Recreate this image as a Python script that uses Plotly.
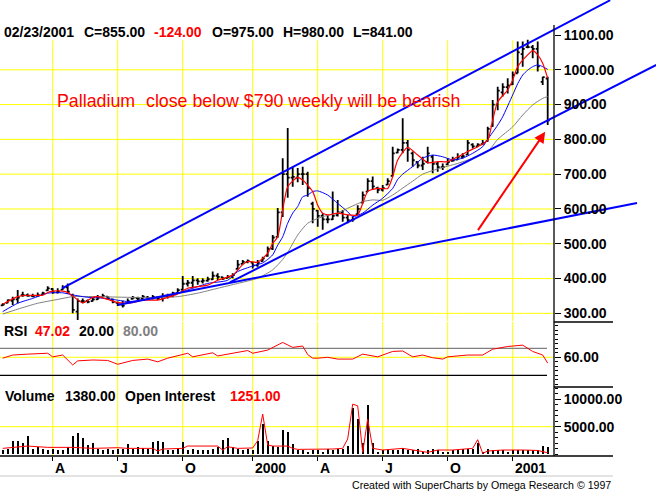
import pandas as pd
import plotly.graph_objects as go

# --- weekly palladium bars, Fridays 01/22/1999 .. 02/23/2001 ---
weeks = pd.date_range("1999-01-22", periods=110, freq="7D")

opens = [323, 330, 336, 340, 352, 352, 350, 350, 354, 366,
         370, 360, 368, 375, 352, 305, 335, 336, 335, 340,
         347, 348, 340, 330, 325, 330, 342, 344, 342, 346,
         343, 346, 345, 350, 352, 358, 368, 385, 388, 395,
         392, 394, 398, 408, 404, 401, 405, 428, 442, 448,
         446, 438, 450, 465, 486, 520, 590, 700, 690, 690,
         700, 700, 615, 595, 580, 570, 570, 582, 590, 575,
         568, 585, 618, 650, 680, 660, 655, 670, 695, 762,
         770, 790, 760, 735, 725, 735, 750, 730, 720, 728,
         738, 742, 750, 756, 785, 780, 786, 795, 838, 900,
         935, 950, 958, 990, 1045, 1065, 1065, 1060, 965, 975]
highs = [329, 340, 348, 367, 362, 357, 356, 360, 362, 378,
         372, 372, 381, 386, 356, 343, 343, 340, 348, 353,
         356, 350, 343, 334, 336, 343, 350, 348, 353, 350,
         353, 348, 358, 356, 362, 372, 407, 396, 407, 401,
         401, 405, 420, 415, 405, 410, 415, 453, 453, 455,
         448, 453, 463, 492, 525, 603, 746, 833, 721, 718,
         721, 707, 621, 597, 588, 583, 650, 626, 597, 583,
         578, 611, 650, 688, 693, 664, 669, 688, 779, 774,
         861, 798, 765, 736, 750, 779, 755, 736, 731, 746,
         750, 760, 760, 798, 789, 789, 798, 836, 913, 951,
         961, 976, 995, 1081, 1081, 1086, 1071, 1081, 980, 980]
lows = [321, 329, 324, 329, 348, 348, 346, 348, 353, 364,
        356, 357, 367, 356, 300, 281, 329, 329, 334, 338,
        346, 340, 329, 321, 317, 329, 340, 338, 340, 338,
        340, 338, 334, 343, 346, 356, 362, 377, 372, 382,
        386, 391, 396, 396, 396, 401, 401, 425, 442, 444,
        429, 434, 449, 463, 482, 517, 577, 632, 664, 677,
        669, 635, 559, 549, 540, 559, 568, 578, 563, 559,
        563, 583, 616, 650, 655, 645, 650, 669, 693, 760,
        760, 736, 721, 717, 712, 731, 703, 707, 712, 726,
        736, 741, 745, 755, 774, 779, 784, 793, 836, 884,
        923, 932, 956, 990, 1009, 1062, 1033, 995, 956, 841]
closes = [326, 338, 340, 345, 352, 350, 349, 352, 358, 372,
          360, 362, 374, 362, 310, 335, 335, 333, 340, 345,
          350, 344, 333, 326, 322, 335, 345, 342, 348, 343,
          347, 344, 350, 352, 358, 367, 385, 388, 395, 392,
          394, 398, 408, 405, 400, 405, 410, 440, 448, 450,
          438, 445, 458, 485, 518, 590, 700, 690, 692, 700,
          700, 660, 600, 580, 570, 570, 580, 590, 575, 568,
          570, 600, 640, 680, 665, 655, 660, 680, 760, 770,
          790, 770, 740, 725, 730, 760, 730, 720, 720, 735,
          740, 750, 752, 790, 780, 785, 790, 830, 900, 940,
          950, 955, 985, 1050, 1060, 1065, 1060, 1010, 979, 855]
volume = [700, 1000, 2400, 2500, 2000, 3300, 1000, 1300, 1000, 700,
          1000, 700, 700, 1400, 3400, 3800, 2900, 1700, 2000, 1000,
          700, 1000, 700, 1000, 1000, 1800, 1000, 1300, 1200, 1000,
          2300, 2400, 2300, 700, 800, 1000, 2200, 800, 1000, 800,
          700, 800, 1000, 1400, 2600, 3000, 1400, 1000, 800, 1000,
          800, 2400, 5500, 2500, 1600, 1400, 4400, 4000, 1800, 700,
          800, 500, 800, 800, 500, 1000, 700, 1000, 1000, 1600,
          8400, 6400, 2000, 8900, 2000, 400, 700, 800, 800, 800,
          1100, 700, 800, 1000, 500, 700, 1000, 700, 500, 500,
          800, 700, 1000, 1000, 1000, 2000, 500, 1000, 700, 700,
          800, 500, 700, 800, 700, 800, 700, 800, 1600, 1380]

# indicator lines: week number -> value
red_wk = [0, 3, 5, 8, 9, 10, 12, 13, 14, 16, 18, 19, 21, 23, 26, 28, 31, 33, 35, 37,
          41, 43, 46, 48, 49, 51, 53, 54, 55, 56, 57, 59, 60, 62, 63, 64, 65, 67, 69, 71,
          72, 73, 75, 77, 78, 79, 81, 83, 85, 87, 89, 91, 93, 95, 97, 98, 99, 101, 102, 103,
          105, 106, 107, 108, 109]
red_ma = [326, 348, 352, 352, 360, 364, 364, 360, 350, 330, 346, 348, 340, 331, 331, 338, 338, 346, 356, 372,
          381, 395, 410, 440, 449, 447, 473, 501, 520, 597, 664, 691, 683, 650, 611, 588, 583, 588, 583, 583,
          616, 650, 659, 659, 693, 741, 777, 755, 733, 736, 736, 750, 765, 779, 798, 856, 908, 942, 971, 1009,
          1043, 1055, 1043, 1019, 976]
blue_wk = [0, 3, 6, 9, 12, 14, 17, 19, 22, 25, 27, 31, 35, 38, 41, 45, 47, 50, 52, 53,
           54, 55, 56, 57, 58, 59, 60, 61, 62, 63, 65, 67, 69, 70, 72, 74, 76, 78, 79, 80,
           82, 84, 86, 88, 90, 92, 94, 96, 97, 99, 100, 102, 103, 104, 105, 106, 107, 108, 109]
blue_ma = [305, 329, 343, 358, 359, 353, 346, 345, 340, 334, 336, 345, 358, 372, 386, 395, 420, 436, 445, 455,
           468, 496, 520, 559, 588, 607, 635, 640, 650, 652, 640, 616, 592, 578, 588, 611, 631, 659, 685, 700,
           722, 746, 755, 750, 741, 746, 760, 779, 800, 841, 865, 928, 960, 985, 999, 1009, 1014, 1009, 1001]
gray_wk = [0, 3, 7, 11, 14, 19, 25, 30, 35, 39, 43, 47, 51, 54, 56, 57, 59, 61, 64, 67,
           69, 72, 74, 76, 78, 80, 82, 84, 87, 91, 94, 97, 99, 102, 104, 106, 108, 109]
gray_ma = [298, 312, 329, 340, 348, 348, 346, 345, 348, 358, 372, 386, 401, 425, 455, 475, 525, 559, 578, 588,
           602, 621, 626, 625, 640, 660, 680, 700, 715, 731, 746, 765, 800, 836, 870, 899, 918, 923]

rsi_wk = [0, 2, 5, 9, 10, 12, 14, 15, 18, 21, 23, 26, 29, 31, 33, 36, 37, 38, 40, 42,
          43, 46, 49, 50, 53, 56, 58, 60, 61, 62, 63, 65, 67, 70, 72, 75, 78, 80, 82, 84,
          86, 88, 89, 93, 96, 98, 101, 104, 106, 108, 109]
rsi = [58, 65, 67, 69, 61, 65, 43, 52, 54, 53, 44.5, 53, 56, 50, 58, 65, 69, 61, 65, 70,
       63, 69, 75, 69, 76, 93, 82, 85, 66, 58, 58, 60, 56, 56, 67, 61, 73, 74, 61, 65,
       59, 56, 61, 65, 65, 78, 84, 87, 73, 65, 47.02]

oi_wk = [0, 2, 5, 9, 14, 18, 23, 25, 30, 31, 32, 36, 37, 43, 44, 45, 47, 50, 51, 52,
         53, 54, 57, 58, 59, 66, 68, 69, 70, 71, 72, 73, 74, 76, 80, 85, 87, 90, 94, 95,
         96, 97, 100, 104, 107, 109]
open_interest = [1080, 1200, 1500, 1260, 1260, 1080, 1200, 1080, 1080, 600, 960, 1080, 1500, 1500, 780, 1380,
                 1080, 1150, 2470, 7280, 1700, 1500, 1500, 1080, 900, 960, 1080, 2770, 9080, 8780, 360, 6380,
                 1080, 780, 1080, 360, 780, 780, 1080, 2650, 180, 600, 780, 780, 700, 290]

# hand-drawn trend lines (date, price)
upper_line_x = ["1999-04-15", "2001-05-21 12:00"]
upper_line_y = [372, 1200]
channel_line_x = ["1999-12-06", "2001-07-25"]
channel_line_y = [389, 1014]
long_line_x = ["1999-07-02", "2001-06-28"]
long_line_y = [324, 617]

price_ticks = [300, 400, 500, 600, 700, 800, 900, 1000, 1100]
month_ticks = ["1999-04-02", "1999-07-02", "1999-10-01", "2000-01-07",
               "2000-04-07", "2000-07-07", "2000-10-06", "2001-01-05"]
month_labels = ["A", "J", "O", "2000", "A", "J", "O", "2001"]

# --- page geometry (pixels) ---
W, H = 656, 491
PLOT_H = 456
T0 = pd.Timestamp("1999-01-22")
FONT = "Liberation Sans, Arial, sans-serif"


def px(x):
    return x / W


def py(y):
    return 1 - y / PLOT_H


def xdate(p):
    # pixel column -> time axis position (5 px per week, first bar at 2.7 px)
    return T0 + pd.Timedelta(days=(p - 2.7) / 5 * 7)


P_RANGE = [278, 1200.6]
R_RANGE = [-6, 138.4]
V_RANGE = [-300, 12180]

fig = go.Figure()

# --- price panel ---
fig.add_trace(go.Ohlc(
    x=weeks, open=opens, high=highs, low=lows, close=closes,
    increasing=dict(line=dict(color="black", width=1.8)),
    decreasing=dict(line=dict(color="black", width=1.8)),
    tickwidth=0.4, xaxis="x", yaxis="y", hoverinfo="skip"
))
for wk, vals, color, width in [(gray_wk, gray_ma, "#808080", 1),
                               (blue_wk, blue_ma, "#0000ff", 1),
                               (red_wk, red_ma, "#ff0000", 1.2)]:
    fig.add_trace(go.Scatter(
        x=weeks[wk], y=vals, mode="lines", xaxis="x", yaxis="y",
        line=dict(color=color, width=width, shape="spline", smoothing=0.6),
        hoverinfo="skip"
    ))
for lx, ly in [(upper_line_x, upper_line_y), (channel_line_x, channel_line_y),
               (long_line_x, long_line_y)]:
    fig.add_trace(go.Scatter(
        x=lx, y=ly, mode="lines", xaxis="x", yaxis="y",
        line=dict(color="#0000ff", width=2), hoverinfo="skip"
    ))

# --- RSI panel ---
fig.add_trace(go.Scatter(
    x=weeks[rsi_wk], y=rsi, mode="lines", xaxis="x", yaxis="y2",
    line=dict(color="#ff0000", width=1), hoverinfo="skip"
))

# --- volume / open interest panel ---
fig.add_trace(go.Bar(
    x=weeks, y=volume, xaxis="x", yaxis="y3",
    width=1.7 * 24 * 3600 * 1000, marker=dict(color="black", line=dict(width=0)),
    hoverinfo="skip"
))
fig.add_trace(go.Scatter(
    x=weeks[oi_wk], y=open_interest, mode="lines", xaxis="x", yaxis="y3",
    line=dict(color="#ff0000", width=1), hoverinfo="skip"
))

# --- grid and frame ---
shapes = []
yellow = dict(color="#ffff00", width=1)
for v in price_ticks[:-1]:
    shapes.append(dict(type="line", xref="x", yref="y", x0=xdate(0), x1=xdate(554),
                       y0=v, y1=v, line=yellow, layer="below"))
for d in month_ticks:
    shapes.append(dict(type="line", xref="x", yref="y", x0=d, x1=d, y0=P_RANGE[0], y1=1085,
                       line=yellow, layer="below"))
    shapes.append(dict(type="line", xref="x", yref="y2", x0=d, x1=d, y0=R_RANGE[0], y1=R_RANGE[1],
                       line=yellow, layer="below"))
    shapes.append(dict(type="line", xref="x", yref="y3", x0=d, x1=d, y0=V_RANGE[0], y1=V_RANGE[1],
                       line=yellow, layer="below"))
shapes.append(dict(type="line", xref="x", yref="y2", x0=xdate(0), x1=xdate(554), y0=60, y1=60,
                   line=yellow, layer="below"))
shapes.append(dict(type="line", xref="x", yref="y2", x0=xdate(0), x1=xdate(547), y0=80, y1=80,
                   line=dict(color="#808080", width=1.2), layer="below"))
shapes.append(dict(type="line", xref="x", yref="y2", x0=xdate(0), x1=xdate(547), y0=20, y1=20,
                   line=dict(color="black", width=1.2), layer="below"))
shapes.append(dict(type="line", xref="x", yref="y3", x0=xdate(0), x1=xdate(554), y0=5000, y1=5000,
                   line=yellow, layer="below"))

frame = dict(color="black", width=1.3)
shapes += [
    dict(type="line", xref="paper", yref="paper", x0=px(554), x1=px(554), y0=py(25), y1=py(456), line=frame),
    dict(type="line", xref="paper", yref="paper", x0=px(554), x1=px(613), y0=py(322), y1=py(322), line=frame),
    dict(type="line", xref="paper", yref="paper", x0=px(554), x1=px(613), y0=py(387), y1=py(387), line=frame),
    dict(type="line", xref="paper", yref="paper", x0=0, x1=px(613), y0=py(456), y1=py(456), line=frame),
    dict(type="line", xref="paper", yref="paper", x0=0, x1=px(613), y0=py(476), y1=py(476),
         line=dict(color="#c8c8c8", width=1)),
]

# --- texts ---
annotations = []


def label(text, x, y, color="black", size=14, bold=True, anchor="left"):
    annotations.append(dict(
        text=f"<b>{text}</b>" if bold else text, x=px(x), y=py(y), xref="paper", yref="paper",
        xanchor=anchor, yanchor="middle", showarrow=False,
        font=dict(family=FONT, size=size, color=color)
    ))


for txt, x, c in [("02/23/2001", 2, "black"), ("C=855.00", 82, "black"), ("-124.00", 152, "#ff0000"),
                  ("O=975.00", 210, "black"), ("H=980.00", 281, "black"), ("L=841.00", 351, "black")]:
    label(txt, x, 32, c)
label("Palladium", 55, 101, "#ff0000", size=17.8, bold=False)
label("close below $790 weekly will be bearish", 144, 101, "#ff0000", size=17.8, bold=False)

for txt, x, c in [("RSI", 2, "black"), ("47.02", 33, "#ff0000"), ("20.00", 77, "black"),
                  ("80.00", 121, "#808080")]:
    label(txt, x, 331, c)
for txt, x, c in [("Volume", 3, "black"), ("1380.00", 63, "black"), ("Open Interest", 123, "black"),
                  ("1251.00", 228, "#ff0000")]:
    label(txt, x, 396, c)
label("Created with SuperCharts by Omega Research \u00a9 1997", 613, 485, size=10.6, bold=False, anchor="right")

for d, t in zip(month_ticks, month_labels):
    annotations.append(dict(
        text=f"<b>{t}</b>", x=d, xref="x", y=py(468), yref="paper", xanchor="left", yanchor="middle",
        showarrow=False, font=dict(family=FONT, size=14, color="black")
    ))

annotations.append(dict(
    x="2001-02-19 12:00", y=822, xref="x", yref="y",
    ax="2000-11-16", ay=535, axref="x", ayref="y",
    text="", showarrow=True, arrowhead=2, arrowsize=1.1, arrowwidth=2, arrowcolor="#ff0000"
))

axis_font = dict(family=FONT, size=14, color="black")
fig.update_layout(
    width=W, height=H,
    margin=dict(l=0, r=0, t=0, b=H - PLOT_H),
    paper_bgcolor="white", plot_bgcolor="white",
    showlegend=False, hovermode=False,
    font=dict(family=FONT, size=14, color="black"),
    xaxis=dict(
        type="date", range=[xdate(0), xdate(W)], anchor="y3",
        showgrid=False, zeroline=False, showline=False,
        tickmode="array", tickvals=month_ticks, showticklabels=False,
        ticks="outside", ticklen=4, tickcolor="black",
        rangeslider=dict(visible=False)
    ),
    yaxis=dict(
        domain=[py(321), 1], range=P_RANGE, anchor="free", position=px(554), side="right",
        tickmode="array", tickvals=price_ticks, ticktext=[f"<b>{v:.2f}</b>" for v in price_ticks],
        ticks="outside", ticklen=6, tickcolor="black", tickfont=axis_font,
        showgrid=False, zeroline=False, showline=False
    ),
    yaxis2=dict(
        domain=[py(387), py(322)], range=R_RANGE, anchor="free", position=px(554), side="right",
        tickmode="array", tickvals=[60], ticktext=["<b>60.00</b>"],
        ticks="outside", ticklen=6, tickcolor="black", tickfont=axis_font,
        minor=dict(ticks="outside", ticklen=3, tickcolor="black", tick0=0, dtick=10),
        showgrid=False, zeroline=False, showline=False
    ),
    yaxis3=dict(
        domain=[0, py(387)], range=V_RANGE, anchor="free", position=px(554), side="right",
        tickmode="array", tickvals=[5000, 10000], ticktext=["<b>5000.00</b>", "<b>10000.00</b>"],
        ticks="outside", ticklen=6, tickcolor="black", tickfont=axis_font,
        minor=dict(ticks="outside", ticklen=3, tickcolor="black", tick0=0, dtick=1000),
        showgrid=False, zeroline=False, showline=False
    ),
    shapes=shapes,
    annotations=annotations,
    bargap=0,
)

fig.write_html("out.html", config={"displayModeBar": False},
               post_script="document.body.style.margin='0';")
